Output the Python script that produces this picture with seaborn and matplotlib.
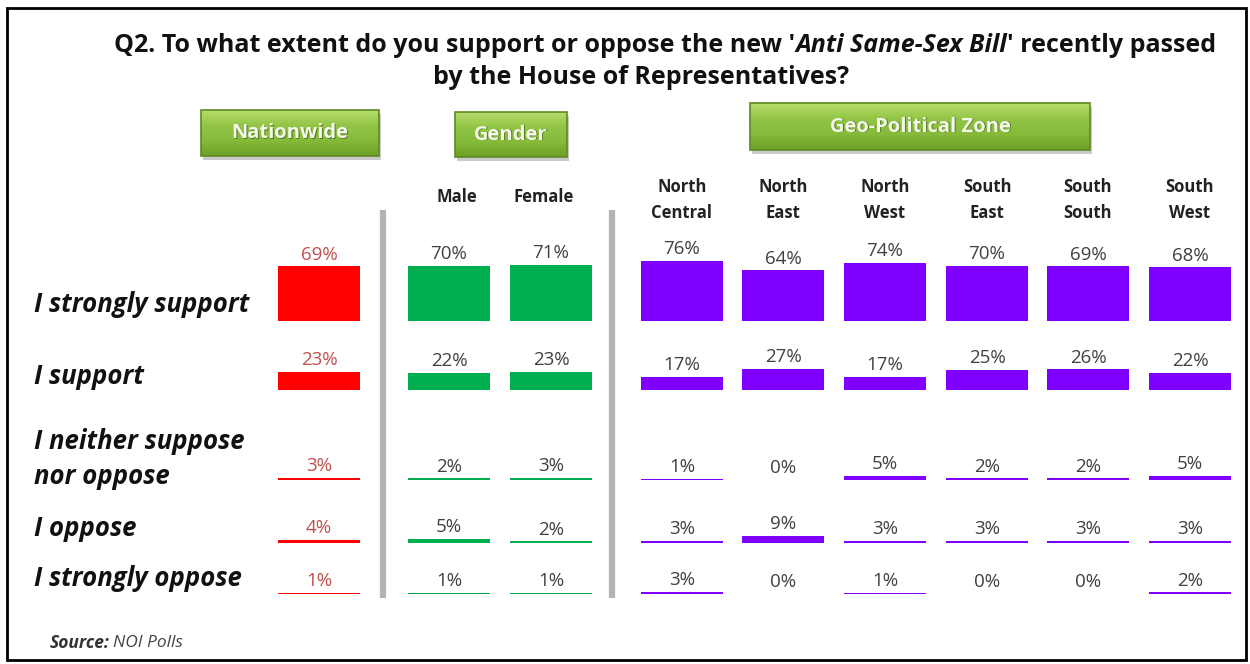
import matplotlib
matplotlib.use("Agg")
import matplotlib.pyplot as plt
from matplotlib.patches import Rectangle
import seaborn as sns
import numpy as np
import pandas as pd

# ---- data ----
columns = ["Nationwide", "Male", "Female", "North\nCentral", "North\nEast",
           "North\nWest", "South\nEast", "South\nSouth", "South\nWest"]
segments = ["Nationwide", "Gender", "Gender", "Zone", "Zone", "Zone", "Zone", "Zone", "Zone"]
responses = ["I strongly support", "I support", "I neither suppose\nnor oppose",
             "I oppose", "I strongly oppose"]
strongly_support = [69, 70, 71, 76, 64, 74, 70, 69, 68]
support = [23, 22, 23, 17, 27, 17, 25, 26, 22]
neither = [3, 2, 3, 1, 0, 5, 2, 2, 5]
oppose = [4, 5, 2, 3, 9, 3, 3, 3, 3]
strongly_oppose = [1, 1, 1, 3, 0, 1, 0, 0, 2]
rows = [strongly_support, support, neither, oppose, strongly_oppose]

# ---- layout (pixels) ----
W, H = 1250, 664
col_x = [319, 449, 551, 682, 783, 885, 987, 1088, 1190]
head_x = [None, 457, 544, 682, 783, 885, 987, 1088, 1190]
baselines = [321, 390, 480, 543, 594]
label_y = [304, 376, 459, 529, 578]
px_per_pct = 0.79
palette = {"Nationwide": "#ff0000", "Gender": "#00b050", "Zone": "#7f00ff"}
label_col = {"Nationwide": "#c0504d", "Gender": "#404040", "Zone": "#404040"}
FONT = "Open Sans"

sns.set_theme(style="white")
plt.rcParams["font.family"] = [FONT, "DejaVu Sans"]

fig = plt.figure(figsize=(W / 100, H / 100), dpi=100)
bg = fig.add_axes([0, 0, 1, 1])
bg.set_xlim(0, W)
bg.set_ylim(H, 0)
bg.axis("off")
r = fig.canvas.get_renderer()

# outer frame
bg.add_patch(Rectangle((7, 8), 1239, 652, fill=False, ec="black", lw=2))

# title
pieces = [("Q2. To what extent do you support or oppose the new '", "normal"),
          ("Anti Same-Sex Bill", "italic"),
          ("' recently passed", "normal")]
texts = [bg.text(0, 45, s, fontsize=18, fontweight="bold", style=st,
                 va="center", ha="left", color="#111111") for s, st in pieces]
widths = [t.get_window_extent(r).width for t in texts]
x = 665 - sum(widths) / 2
for t, w in zip(texts, widths):
    t.set_x(x)
    x += w
bg.text(641, 78, "by the House of Representatives?", fontsize=18, fontweight="bold",
        ha="center", va="center", color="#111111")

# green header boxes
grad = np.linspace(0, 1, 64).reshape(-1, 1)
green = matplotlib.colors.LinearSegmentedColormap.from_list(
    "g", ["#b5dc6c", "#92c545", "#86ba3a", "#6e9f27"])
for (x0, y0, x1, y1, txt) in [(201, 110, 379, 156, "Nationwide"),
                              (455, 112, 567, 157, "Gender"),
                              (750, 103, 1090, 150, "Geo-Political Zone")]:
    bg.add_patch(Rectangle((x0 + 2, y0 + 4), x1 - x0, y1 - y0, color="#8a8a8a", alpha=0.45, lw=0, zorder=1))
    bg.imshow(grad, cmap=green, extent=(x0, x1, y1, y0), aspect="auto", zorder=2)
    bg.add_patch(Rectangle((x0, y0), x1 - x0, y1 - y0, fill=False, ec="#5f8a22", lw=1.2, zorder=3))
    bg.text((x0 + x1) / 2 + 1, (y0 + y1) / 2 + 1, txt, color="#557a1c", fontsize=14.5,
            fontweight="bold", ha="center", va="center", zorder=4)
    bg.text((x0 + x1) / 2, (y0 + y1) / 2, txt, color="#f4f9ec", fontsize=14.5,
            fontweight="bold", ha="center", va="center", zorder=5)
bg.set_xlim(0, W)
bg.set_ylim(H, 0)

# column headers
for cx, name in zip(head_x[1:], columns[1:]):
    yy = 200 if "\n" in name else 197
    bg.text(cx, yy, name, fontsize=12, fontweight="bold", ha="center", va="center",
            color="#222222", linespacing=1.55)

# separators
for sx in [383, 612]:
    bg.plot([sx, sx], [210, 598], color="#b3b3b3", lw=4.5, solid_capstyle="butt")

# row labels
for ry, txt in zip(label_y, responses):
    bg.text(34, ry, txt, fontsize=18.5, fontweight="bold", style="italic",
            ha="left", va="center", color="#111111", linespacing=1.4)

# source
s1 = bg.text(50, 643, "Source:", fontsize=12.5, fontweight="bold", style="italic",
             ha="left", va="center", color="#333333")
sw = s1.get_window_extent(r).width
bg.text(50 + sw + 3, 643, "NOI Polls", fontsize=12.5, style="italic", ha="left",
        va="center", color="#444444")

# bars per row
row_h = 90
for vals, yb in zip(rows, baselines):
    ax = fig.add_axes([0, 1 - yb / H, 1, row_h / H])
    ax.patch.set_alpha(0)
    df = pd.DataFrame({"pos": col_x, "value": vals, "segment": segments})
    sns.barplot(data=df, x="pos", y="value", hue="segment", palette=palette,
                native_scale=True, dodge=False, width=0.81, errorbar=None,
                saturation=1, linewidth=0, legend=False, ax=ax)
    ax.set_xlim(0, W)
    ax.set_ylim(0, row_h / px_per_pct)
    ax.axis("off")
    for cx, v, seg in zip(col_x, vals, segments):
        ax.annotate(f"{v}%", (cx, v), xytext=(0, 2), textcoords="offset points",
                    ha="center", va="bottom", fontsize=13.5, color=label_col[seg],
                    annotation_clip=False)

fig.savefig("out.png", dpi=100)
